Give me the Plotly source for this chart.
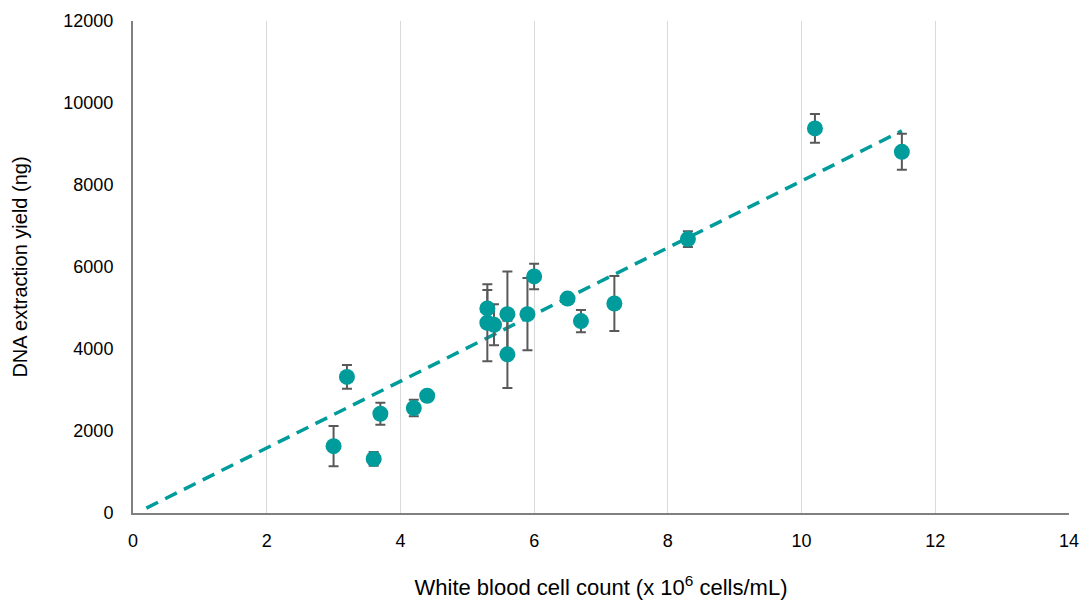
import plotly.graph_objects as go

wbc = [3.0, 3.2, 3.6, 3.7, 4.2, 4.4, 5.3, 5.3, 5.4, 5.6, 5.6, 5.9, 6.0, 6.5, 6.7, 7.2, 8.3, 10.2, 11.5]
yield_ng = [1630, 3320, 1320, 2420, 2560, 2860, 4990, 4640, 4590, 4850, 3870, 4850, 5770, 5230, 4680, 5110, 6680, 9380, 8810]
err = [490, 290, 170, 270, 200, 60, 450, 940, 500, 1040, 820, 880, 310, 60, 270, 670, 190, 350, 440]

trend_x = [0.2, 11.5]
trend_y = [120, 9320]

teal = "#009C9C"
font_family = "Liberation Sans, Arial, sans-serif"

fig = go.Figure()
fig.add_trace(go.Scatter(
    x=trend_x, y=trend_y, mode="lines",
    line=dict(color=teal, width=3.5, dash="13px,8px"),
    hoverinfo="skip", showlegend=False,
))
fig.add_trace(go.Scatter(
    x=wbc, y=yield_ng, mode="markers",
    marker=dict(color=teal, size=16, line=dict(width=0)),
    error_y=dict(type="data", array=err, visible=True, color="#595959", thickness=2, width=5),
    showlegend=False,
))

fig.update_layout(
    width=1086, height=600,
    margin=dict(l=133, r=17, t=21, b=87, autoexpand=False),
    paper_bgcolor="white", plot_bgcolor="white",
    font=dict(family=font_family, size=18, color="#000000"),
    xaxis=dict(
        range=[0, 14], dtick=2, tick0=0, automargin=False,
        showgrid=True, gridcolor="#D9D9D9", gridwidth=1,
        showline=True, linecolor="#808080", linewidth=2,
        zeroline=False, ticks="", ticklen=0, ticklabelstandoff=10,
        title=dict(text="White blood cell count (x 10<sup>6</sup> cells/mL)", font=dict(size=22), standoff=30),
        tickfont=dict(size=18),
    ),
    yaxis=dict(
        range=[0, 12000], dtick=2000, tick0=0, tickformat="d", automargin=False,
        showgrid=False,
        showline=True, linecolor="#808080", linewidth=2,
        zeroline=False, ticks="", ticklen=0, ticklabelstandoff=14,
        title=dict(text="DNA extraction yield (ng)", font=dict(size=20), standoff=30),
        tickfont=dict(size=18),
    ),
)

fig.write_html("out.html")
